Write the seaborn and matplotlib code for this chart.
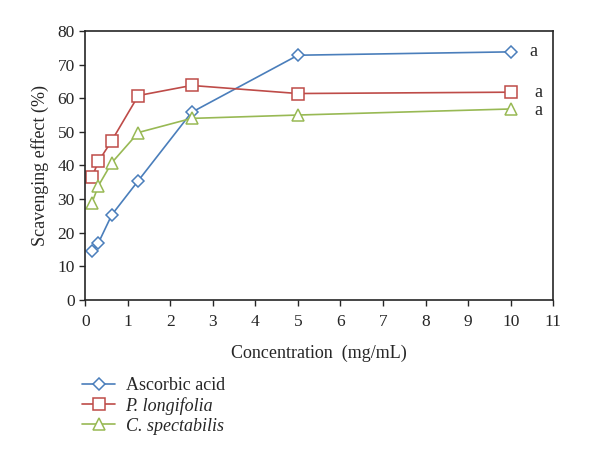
import pandas as pd
import seaborn as sns
import matplotlib.pyplot as plt

conc = [0.156, 0.3125, 0.625, 1.25, 2.5, 5, 10]
ascorbic = [14.5, 17.0, 25.3, 35.5, 55.8, 72.8, 73.8]
longifolia = [36.5, 41.2, 47.4, 60.8, 63.8, 61.4, 61.8]
spectabilis = [28.8, 34.0, 40.8, 49.8, 54.0, 55.0, 56.8]
names = ["Ascorbic acid", "P. longifolia", "C. spectabilis"]

df = pd.DataFrame({
    "conc": conc * 3,
    "effect": ascorbic + longifolia + spectabilis,
    "sample": [n for n in names for _ in conc],
})

sns.set_style("ticks")
plt.rcParams["font.family"] = ["Liberation Serif", "DejaVu Serif"]

colors = {"Ascorbic acid": "#4a7ebb", "P. longifolia": "#be4b48", "C. spectabilis": "#98b954"}
markers = {"Ascorbic acid": "D", "P. longifolia": "s", "C. spectabilis": "^"}
msize = {"Ascorbic acid": 6, "P. longifolia": 8, "C. spectabilis": 9}

fig = plt.figure(figsize=(6, 4.7), dpi=100)
ax = fig.add_axes([0.142, 0.362, 0.78, 0.572])

for n in names:
    sub = df[df["sample"] == n]
    sns.lineplot(data=sub, x="conc", y="effect", ax=ax, color=colors[n],
                 marker=markers[n], markersize=msize[n], markerfacecolor="white",
                 markeredgecolor=colors[n], markeredgewidth=1.1, linewidth=1.2,
                 label=n)

# significance letters next to last points
ax.text(10.45, ascorbic[-1], "a", fontsize=13, va="center", ha="left")
ax.text(10.55, longifolia[-1], "a", fontsize=13, va="center", ha="left")
ax.text(10.55, spectabilis[-1] - 0.5, "a", fontsize=13, va="center", ha="left")

ax.set_xlim(0, 11)
ax.set_ylim(0, 80)
ax.set_xticks(range(0, 12))
ax.set_yticks(range(0, 81, 10))
ax.tick_params(labelsize=12.5, length=4, width=1, direction="out")
ax.tick_params(axis="x", pad=6)
ax.set_xlabel("Concentration  (mg/mL)", fontsize=13, labelpad=11)
ax.set_ylabel("Scavenging effect (%)", fontsize=13, labelpad=6)
for s in ax.spines.values():
    s.set_linewidth(1.2)

leg = ax.legend(loc="upper left", bbox_to_anchor=(0.11, 0.232), bbox_transform=fig.transFigure,
                frameon=False, fontsize=13, handlelength=1.8, handletextpad=0.6,
                labelspacing=0.15)
for t in leg.get_texts()[1:]:
    t.set_style("italic")

fig.savefig("out.png", dpi=100)
